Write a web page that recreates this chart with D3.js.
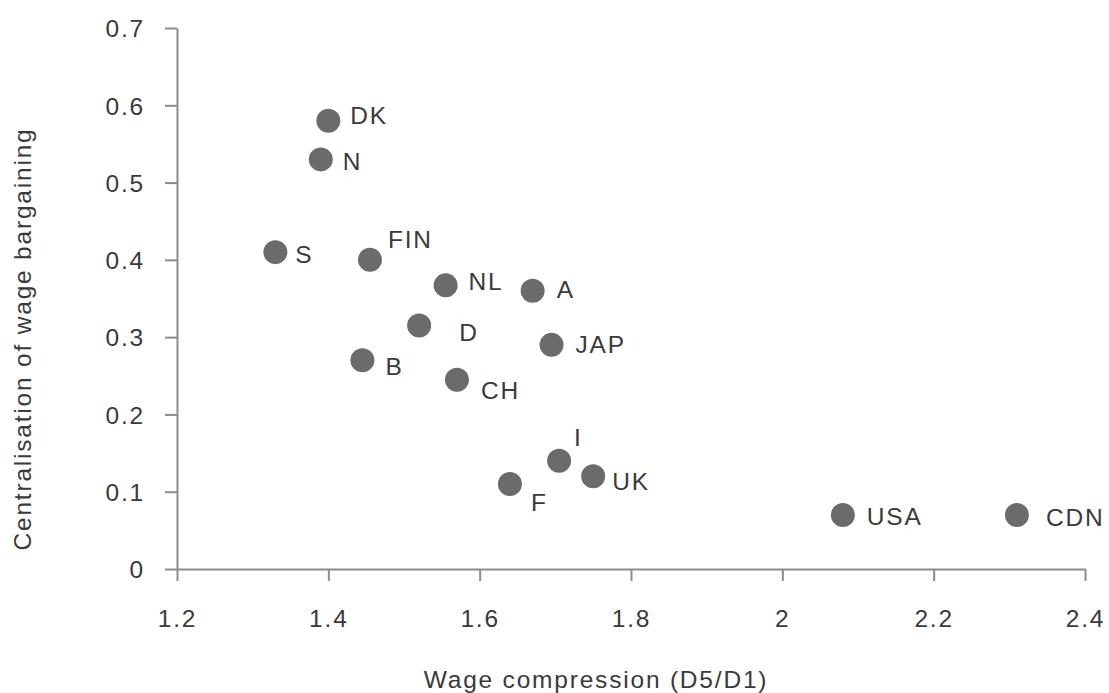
<!DOCTYPE html>
<html>
<head>
<meta charset="utf-8">
<script src="https://cdn.jsdelivr.net/npm/d3@7"></script>
<style>
  html, body { margin: 0; padding: 0; background: #fff; }
  svg { display: block; }
  text { font-family: "Liberation Sans", Arial, sans-serif; fill: #3a3a3a; }
</style>
</head>
<body>
<svg id="chart" width="1109" height="693"></svg>
<script>
// ---- data ----
const countries = ["DK", "N", "S", "FIN", "NL", "A", "D", "B", "CH", "JAP", "I", "F", "UK", "USA", "CDN"];
const wageCompression = [1.40, 1.39, 1.33, 1.455, 1.555, 1.67, 1.52, 1.445, 1.57, 1.695, 1.705, 1.64, 1.75, 2.08, 2.31];
const centralisation = [0.58, 0.53, 0.41, 0.40, 0.367, 0.36, 0.315, 0.27, 0.245, 0.29, 0.14, 0.11, 0.12, 0.07, 0.07];
const xTicks = [1.2, 1.4, 1.6, 1.8, 2.0, 2.2, 2.4];
const yTicks = [0, 0.1, 0.2, 0.3, 0.4, 0.5, 0.6, 0.7];
const xTitle = "Wage compression (D5/D1)";
const yTitle = "Centralisation of wage bargaining";

// ---- label placement (layout only) ----
const labelOffsets = [
  [22, -6], [22, 2], [20, 2], [18, -21], [23, -4], [24, -2], [40, 7], [23, 6],
  [24, 11], [24, -1], [15, -24], [21, 18], [19, 5], [24, 1], [29, 2]
];

const points = countries.map((c, i) => ({
  name: c, x: wageCompression[i], y: centralisation[i],
  dx: labelOffsets[i][0], dy: labelOffsets[i][1]
}));

const svg = d3.select("#chart");
const x = d3.scaleLinear().domain([1.2, 2.4]).range([177, 1085]);
const y = d3.scaleLinear().domain([0, 0.7]).range([569, 28]);

const axisColor = "#8c8c8c";
const fontSize = 24.5;
const ls = "1.8px";

// X axis
const xAxis = svg.append("g").attr("transform", `translate(0,${y(0)})`)
  .call(d3.axisBottom(x).tickValues(xTicks).tickSize(12).tickSizeOuter(0)
    .tickFormat(d => d3.format("")(+d.toFixed(1))));
xAxis.select(".domain").attr("stroke", axisColor).attr("stroke-width", 2);
xAxis.selectAll(".tick line").attr("stroke", axisColor).attr("stroke-width", 2);
xAxis.selectAll(".tick text")
  .attr("y", 58).attr("dy", null)
  .style("font-size", fontSize + "px").style("letter-spacing", ls)
  .attr("fill", "#3a3a3a");

// Y axis
const yAxis = svg.append("g").attr("transform", `translate(${x(1.2)},0)`)
  .call(d3.axisLeft(y).tickValues(yTicks).tickSize(12).tickSizeOuter(0)
    .tickFormat(d => d3.format("")(+d.toFixed(1))));
yAxis.select(".domain").attr("stroke", axisColor).attr("stroke-width", 2);
yAxis.selectAll(".tick line").attr("stroke", axisColor).attr("stroke-width", 2);
yAxis.selectAll(".tick text")
  .attr("x", -32).attr("dy", "0.36em")
  .style("font-size", fontSize + "px").style("letter-spacing", ls)
  .attr("fill", "#3a3a3a");

// Points
svg.append("g").selectAll("circle").data(points).join("circle")
  .attr("cx", d => x(d.x)).attr("cy", d => y(d.y)).attr("r", 12)
  .attr("fill", "#6b6b6b");

// Labels
svg.append("g").selectAll("text").data(points).join("text")
  .attr("x", d => x(d.x) + d.dx)
  .attr("y", d => y(d.y) + d.dy + 8.8)
  .style("font-size", fontSize + "px").style("letter-spacing", ls)
  .text(d => d.name);

// Axis titles
svg.append("text").attr("x", 596).attr("y", 688).attr("text-anchor", "middle")
  .style("font-size", fontSize + "px").style("letter-spacing", ls)
  .text(xTitle);
svg.append("text").attr("transform", "translate(31,339) rotate(-90)")
  .attr("text-anchor", "middle")
  .style("font-size", fontSize + "px").style("letter-spacing", ls)
  .text(yTitle);
</script>
</body>
</html>
